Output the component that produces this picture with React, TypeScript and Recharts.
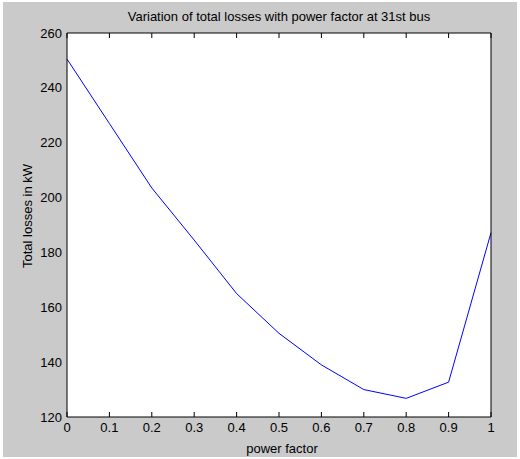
import React from 'react';
import { LineChart, Line, XAxis, YAxis, CartesianGrid } from 'recharts';

const powerFactor = [0, 0.1, 0.2, 0.3, 0.4, 0.5, 0.6, 0.7, 0.8, 0.9, 1.0];
const totalLosses = [250.5, 227, 203.5, 184.5, 165, 150.5, 139, 130, 126.8, 132.7, 187.2];
const xTicks = [0, 0.1, 0.2, 0.3, 0.4, 0.5, 0.6, 0.7, 0.8, 0.9, 1];
const yTicks = [120, 140, 160, 180, 200, 220, 240, 260];
const titleText = 'Variation of total losses with power factor at 31st bus';
const xLabelText = 'power factor';
const yLabelText = 'Total losses in kW';

const data = powerFactor.map((pf, i) => ({ pf, loss: totalLosses[i] }));

const FONT = '"Liberation Sans", Arial, Helvetica, sans-serif';
const tickStyle = { fontSize: 13, fill: '#000', fontFamily: FONT };
const empty = () => '';

export default function App() {
  return (
    <div style={{ position: 'absolute', left: 0, top: 0, width: 520, height: 459, background: '#fff' }}>
      <div style={{ position: 'absolute', left: 3, top: 2, width: 514, height: 455, background: '#cacaca' }} />
      <div style={{ position: 'absolute', left: 0, top: 0 }}>
        <LineChart width={520} height={459} data={data} margin={{ top: 33, right: 29, bottom: 22, left: 27 }}>
          <CartesianGrid horizontal={false} vertical={false} fill="#ffffff" />
          <XAxis
            xAxisId="b"
            dataKey="pf"
            type="number"
            domain={[0, 1]}
            ticks={xTicks}
            height={20}
            tickLine={false}
            tickSize={0}
            tickMargin={6}
            axisLine={{ stroke: '#000' }}
            tick={tickStyle}
            tickFormatter={(v: number) => String(Math.round(v * 10) / 10)}
            label={{
              content: ({ viewBox }: any) => (
                <text x={viewBox.x + viewBox.width / 2 + 3} y={453} textAnchor="middle" fontSize={13} fontFamily={FONT} fill="#000">
                  {xLabelText}
                </text>
              ),
            }}
          />
          <XAxis xAxisId="bm" dataKey="pf" type="number" domain={[0, 1]} ticks={xTicks} orientation="bottom" mirror tickSize={5} tickLine={{ stroke: '#000' }} axisLine={false} tickFormatter={empty} />
          <XAxis xAxisId="t" dataKey="pf" type="number" domain={[0, 1]} ticks={xTicks} orientation="top" mirror tickSize={5} tickLine={{ stroke: '#000' }} axisLine={{ stroke: '#000' }} tickFormatter={empty} />
          <YAxis
            yAxisId="l"
            type="number"
            domain={[120, 260]}
            ticks={yTicks}
            width={40}
            tickLine={false}
            tickSize={0}
            tickMargin={5}
            axisLine={{ stroke: '#000' }}
            tick={tickStyle}
            label={{
              content: () => (
                <text x={32} y={216} transform="rotate(-90 32 216)" textAnchor="middle" fontSize={13} fontFamily={FONT} fill="#000">
                  {yLabelText}
                </text>
              ),
            }}
          />
          <YAxis yAxisId="lm" type="number" domain={[120, 260]} ticks={yTicks} orientation="left" mirror tickSize={5} tickLine={{ stroke: '#000' }} axisLine={false} tickFormatter={empty} />
          <YAxis
            yAxisId="r"
            type="number"
            domain={[120, 260]}
            ticks={yTicks}
            orientation="right"
            mirror
            tickSize={5}
            tickLine={{ stroke: '#000' }}
            axisLine={{ stroke: '#000' }}
            tickFormatter={empty}
            label={{
              content: () => (
                <text x={279} y={21} textAnchor="middle" fontSize={13} fontFamily={FONT} fill="#000">
                  {titleText}
                </text>
              ),
            }}
          />
          <Line xAxisId="b" yAxisId="l" type="linear" dataKey="loss" stroke="#0000ff" strokeWidth={1} dot={false} isAnimationActive={false} />
        </LineChart>
      </div>
    </div>
  );
}
